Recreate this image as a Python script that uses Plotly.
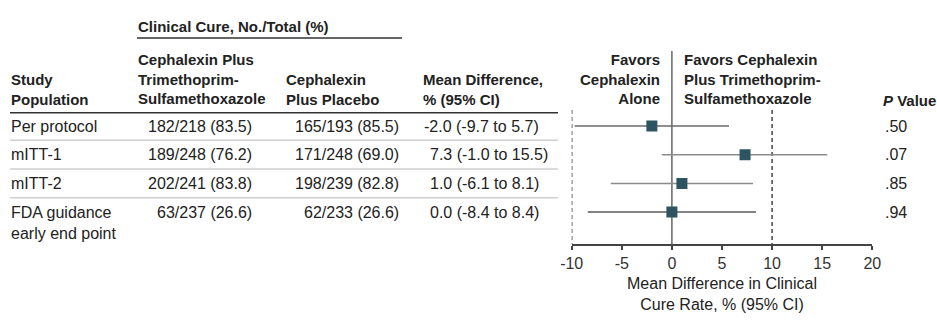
import plotly.graph_objects as go

# ---------------- data ----------------
populations = ["Per protocol", "mITT-1", "mITT-2", "FDA guidance<br>early end point"]
combo_cure = ["182/218 (83.5)", "189/248 (76.2)", "202/241 (83.8)", "63/237 (26.6)"]
placebo_cure = ["165/193 (85.5)", "171/248 (69.0)", "198/239 (82.8)", "62/233 (26.6)"]
mean_diff = [-2.0, 7.3, 1.0, 0.0]
ci_low = [-9.7, -1.0, -6.1, -8.4]
ci_high = [5.7, 15.5, 8.1, 8.4]
p_values = [".50", ".07", ".85", ".94"]
tick_vals = [-10, -5, 0, 5, 10, 15, 20]
tick_text = ["-10", "-5", "0", "5", "10", "15", "20"]
margin_limits = [-10, 10]

# ---------------- layout helpers ----------------
W, H = 937, 333
FONT = "Liberation Sans, Arial, sans-serif"
TXT = "#222222"
FS = 16
FSB = 15
ROW0, ROWSTEP = 126.0, 28.7
AXIS_PX = 244.3
CI_COLORS = ["#6a6a6a", "#8c8c8c", "#8c8c8c", "#5a5a5a"]
MARKER_COLOR = "#2d5461"


def px(x):
    return x / W


def py(y):
    return 1 - y / H


def row_px(i):
    return ROW0 + ROWSTEP * i


def pix_to_row(y):
    return (y - ROW0) / ROWSTEP


fig = go.Figure()

rows = list(range(len(populations)))

# CI lines
for i in rows:
    fig.add_trace(go.Scatter(
        x=[ci_low[i], ci_high[i]], y=[i, i], mode="lines",
        line=dict(color=CI_COLORS[i], width=1.5), hoverinfo="skip", showlegend=False))

# point estimates
fig.add_trace(go.Scatter(
    x=mean_diff, y=rows, mode="markers",
    marker=dict(symbol="square", size=11, color=MARKER_COLOR, line=dict(width=0)),
    showlegend=False))

annotations = []


def txt(text, x, y, xanchor="left", bold=False, yanchor="middle", align="left"):
    size = FS
    if bold:
        text = "<b>" + text.replace("<br>", "</b><br><b>") + "</b>"
        size = FSB
    annotations.append(dict(
        text=text, x=px(x), y=py(y), xref="paper", yref="paper",
        xanchor=xanchor, yanchor=yanchor, align=align, showarrow=False,
        font=dict(family=FONT, size=size, color=TXT), borderpad=0))


# headers
txt("Clinical Cure, No./Total (%)", 137, 26, bold=True)
txt("Study<br>Population", 10, 89.5, bold=True)
txt("Cephalexin Plus<br>Trimethoprim-<br>Sulfamethoxazole", 137, 79, bold=True)
txt("Cephalexin<br>Plus Placebo", 285, 89.5, bold=True)
txt("Mean Difference,<br>% (95% CI)", 422, 89.5, bold=True)
txt("Favors<br>Cephalexin<br>Alone", 661, 79, xanchor="right", bold=True, align="right")
txt("Favors Cephalexin<br>Plus Trimethoprim-<br>Sulfamethoxazole", 683, 79, bold=True)
txt("<i>P</i> Value", 882, 100, bold=True)

# table rows
for i in rows:
    y = row_px(i)
    if "<br>" in populations[i]:
        txt(populations[i], 10, y + 10.5)
    else:
        txt(populations[i], 10, y)
    txt(combo_cure[i], 253, y, xanchor="right")
    txt(placebo_cure[i], 400, y, xanchor="right")
    s = f"{mean_diff[i]:.1f} ({ci_low[i]:.1f} to {ci_high[i]:.1f})"
    x0 = 429 - (6.5 if mean_diff[i] < 0 else 0)
    txt(s, x0, y)
    txt(p_values[i], 884, y)

# x axis title
txt("Mean Difference in Clinical<br>Cure Rate, % (95% CI)", 722, 293.5, xanchor="center", align="center")

shapes = []
# header underline
shapes.append(dict(type="line", xref="paper", yref="paper", x0=px(137), x1=px(402),
                   y0=py(38), y1=py(38), line=dict(color="#333333", width=1.5)))
# column header bottom line
shapes.append(dict(type="line", xref="paper", yref="paper", x0=px(10), x1=px(558),
                   y0=py(112.7), y1=py(112.7), line=dict(color="#333333", width=1.5)))
# row separators
for i in rows[:-1]:
    yy = row_px(i) + ROWSTEP / 2
    shapes.append(dict(type="line", xref="paper", yref="paper", x0=px(10), x1=px(558),
                       y0=py(yy), y1=py(yy), line=dict(color="#cfcfcf", width=1.5)))
# zero line
shapes.append(dict(type="line", xref="x", yref="y", x0=0, x1=0,
                   y0=pix_to_row(51), y1=pix_to_row(AXIS_PX), layer="below",
                   line=dict(color="#666666", width=1.5)))
# margin dashed lines
for m in margin_limits:
    shapes.append(dict(type="line", xref="x", yref="y", x0=m, x1=m,
                       y0=pix_to_row(110), y1=pix_to_row(AXIS_PX), layer="below",
                       line=dict(color="#444444", width=1.5, dash="4px,3px")))

dom_bottom = (H - AXIS_PX) / H
fig.update_layout(
    width=W, height=H, margin=dict(l=0, r=0, t=0, b=0, pad=0, autoexpand=False),
    paper_bgcolor="white", plot_bgcolor="white",
    font=dict(family=FONT, size=FS, color=TXT),
    annotations=annotations, shapes=shapes,
    xaxis=dict(domain=[571.7 / W, 872.3 / W], range=[-10, 20],
               tickvals=tick_vals, ticktext=tick_text, automargin=False,
               showline=True, linecolor="#444444", linewidth=1.5,
               ticks="outside", ticklen=4, tickwidth=1.5, tickcolor="#444444",
               showgrid=False, zeroline=False,
               tickfont=dict(family=FONT, size=FS, color="#333333")),
    yaxis=dict(domain=[dom_bottom, 1], range=[pix_to_row(AXIS_PX), pix_to_row(0)],
               visible=False, showgrid=False, zeroline=False, automargin=False),
)

fig.write_html("out.html",
               config={"displayModeBar": False},
               post_script="document.body.style.margin='0';document.body.style.overflow='hidden';")
